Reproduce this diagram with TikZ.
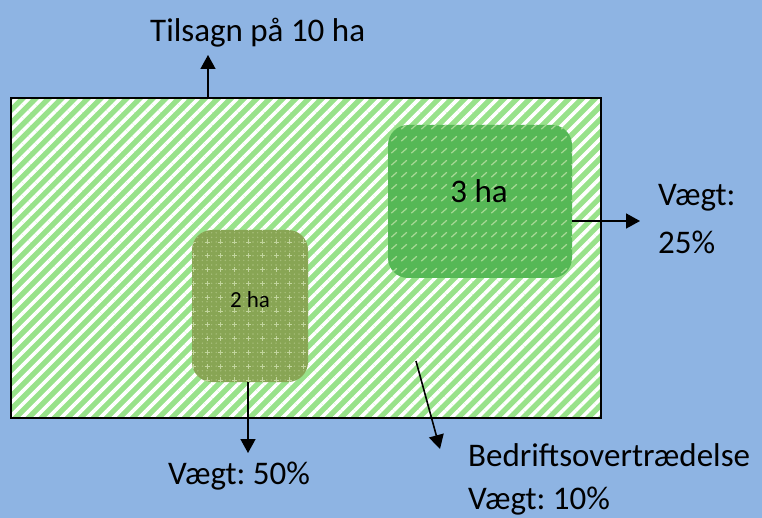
\documentclass[tikz,border=0pt]{standalone}
\usepackage{fontspec}
\setmainfont{Carlito}
\usetikzlibrary{patterns,patterns.meta,arrows.meta}
\definecolor{bgblue}{HTML}{8EB4E3}
\definecolor{fieldgreen}{HTML}{98E28A}
\definecolor{darkgreen}{HTML}{56B856}
\definecolor{dashgreen}{HTML}{A8D996}
\definecolor{olive}{HTML}{88A554}
\definecolor{olivedot}{HTML}{A7BE7A}
\definecolor{olivecross}{HTML}{C2D59E}
\pgfdeclarepatternformonly{smalldashes}{\pgfqpoint{0pt}{0pt}}{\pgfqpoint{10pt}{11.5pt}}{\pgfqpoint{10pt}{11.5pt}}{%
  \pgfsetlinewidth{1.3pt}%
  \pgfpathmoveto{\pgfqpoint{1.5pt}{3pt}}\pgfpathlineto{\pgfqpoint{7.5pt}{8pt}}\pgfusepath{stroke}}
\pgfdeclarepatternformonly{finedots}{\pgfqpoint{-1pt}{-1pt}}{\pgfqpoint{1pt}{1pt}}{\pgfqpoint{4.6pt}{4.6pt}}{%
  \pgfpathcircle{\pgfqpoint{0pt}{0pt}}{0.8pt}\pgfusepath{fill}}
\pgfdeclarepatternformonly{smallcrosses}{\pgfqpoint{-3pt}{-3pt}}{\pgfqpoint{3pt}{3pt}}{\pgfqpoint{13.8pt}{13.8pt}}{%
  \pgfsetlinewidth{0.9pt}%
  \pgfpathmoveto{\pgfqpoint{-2.5pt}{0pt}}\pgfpathlineto{\pgfqpoint{2.5pt}{0pt}}%
  \pgfpathmoveto{\pgfqpoint{0pt}{-2.5pt}}\pgfpathlineto{\pgfqpoint{0pt}{2.5pt}}\pgfusepath{stroke}}
\tikzset{
  lbl/.style={font=\fontsize{33}{40}\selectfont, inner sep=0pt, anchor=base west},
  arr/.style={line width=1.6pt, -{Triangle[length=14pt,width=15pt]}},
  field/.style={fill=fieldgreen,
    postaction={pattern={Lines[angle=45,distance=9.2pt,line width=3.6pt]}, pattern color=white},
    postaction={draw=black, line width=1.6pt},
    minimum width=590pt, minimum height=320pt, inner sep=0pt},
  bigpatch/.style={fill=darkgreen, rounded corners=20pt,
    postaction={pattern=smalldashes, pattern color=dashgreen},
    minimum width=184pt, minimum height=153pt, inner sep=0pt},
  smallpatch/.style={fill=olive, rounded corners=20pt,
    postaction={pattern=finedots, pattern color=olivedot},
    postaction={pattern=smallcrosses, pattern color=olivecross},
    minimum width=116pt, minimum height=152pt, inner sep=0pt},
}
\frenchspacing
\begin{document}
\begin{tikzpicture}[x=1pt,y=-1pt]
\useasboundingbox[fill=bgblue] (0,0) rectangle (762,518);
\node[field] (field) at (306,258) {};
\node[bigpatch] (p3) at (480,201.5) {};
\node[smallpatch] (p2) at (250,306) {};
\node[font=\fontsize{33}{40}\selectfont, inner sep=0pt, anchor=base] (t3) at (479,203) {3 ha};
\node[font=\fontsize{23}{28}\selectfont, inner sep=0pt, anchor=base] (t2) at (250,308) {2 ha};
\node[lbl] (tilsagn) at (150,42) {Tilsagn på 10 ha};
\node[lbl] (v25a) at (658,206) {Vægt:};
\node[lbl] (v25b) at (658,254) {25\%};
\node[lbl] (v50) at (168,484) {Vægt: 50\%};
\node[lbl] (bedr) at (468,466) {Bedriftsovertrædelse};
\node[lbl] (v10) at (468,509) {Vægt: 10\%};
\coordinate (upstart) at (208,98);
\coordinate (uptip) at (208,55);
\coordinate (rtip) at (640,221);
\coordinate (dtip) at (248,453);
\coordinate (dgstart) at (416,361);
\coordinate (dgtip) at (440,449);
\draw[arr] (upstart) -- (uptip);
\draw[arr] (p3.east |- rtip) -- (rtip);
\draw[arr] (p2.south -| dtip) -- (dtip);
\draw[arr] (dgstart) -- (dgtip);
\end{tikzpicture}
\end{document}
